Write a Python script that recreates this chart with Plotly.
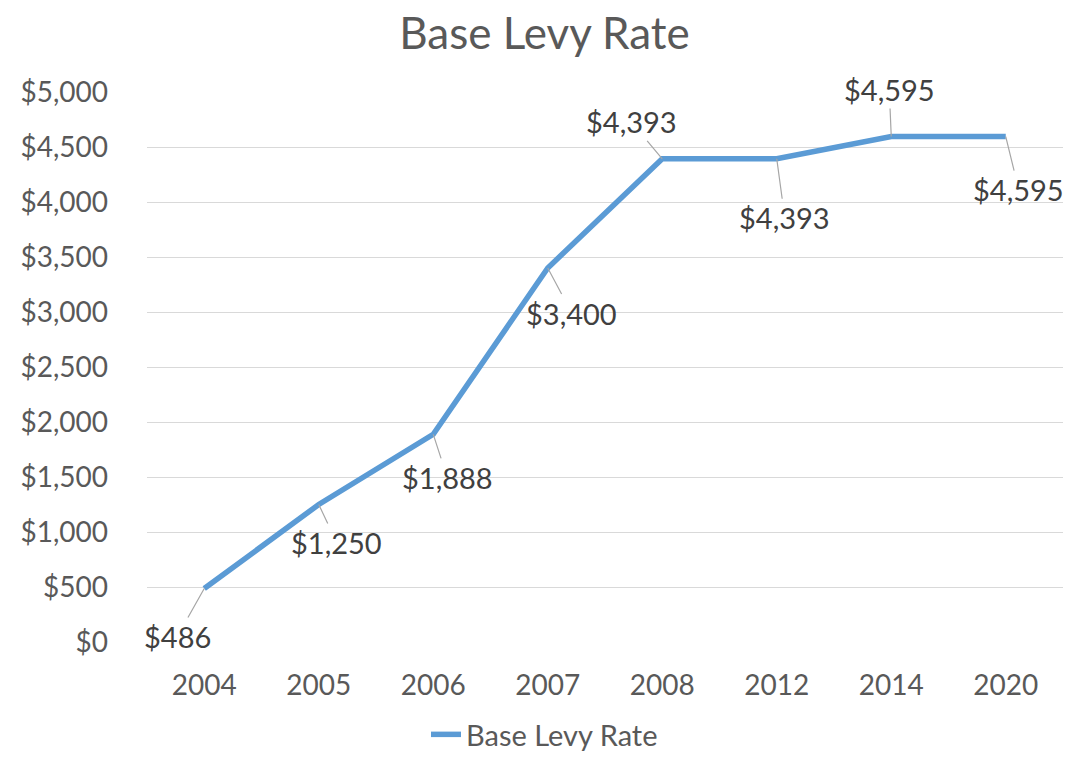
import plotly.graph_objects as go

years = ["2004", "2005", "2006", "2007", "2008", "2012", "2014", "2020"]
levy = [486, 1250, 1888, 3400, 4393, 4393, 4595, 4595]
series_name = "Base Levy Rate"
title_text = "Base Levy Rate"
y_ticks = [0, 500, 1000, 1500, 2000, 2500, 3000, 3500, 4000, 4500, 5000]

# label offsets (pixels) of each data label from its point
label_dx = [-27, 18, 14, 24, -31, 8, -2, 13]
label_dy = [48, 38, 43, 45, -37, 59, -47, 53]

FONT = "Lato"
LINE_COLOR = "#5B9BD5"

fig = go.Figure()
fig.add_trace(go.Scatter(
    x=years, y=levy, mode="lines", name=series_name,
    line=dict(color=LINE_COLOR, width=5.5),
    hoverinfo="skip",
))

for i, (v, dx, dy) in enumerate(zip(levy, label_dx, label_dy)):
    fig.add_annotation(
        x=i, y=v, text=f"${v:,}",
        showarrow=True, arrowhead=0, arrowwidth=1.2, arrowcolor="#A6A6A6",
        ax=dx, ay=dy, standoff=0,
        font=dict(family=FONT, size=29, color="#404040"),
    )

# the page body adds an 8px offset, so margins are shifted to compensate
fig.update_layout(
    width=1073, height=752,
    paper_bgcolor="white", plot_bgcolor="white",
    margin=dict(l=139, r=18, t=84, b=118),
    title=dict(text=title_text, x=0.5, xanchor="center", y=0.966, yanchor="middle",
               font=dict(family=FONT, size=44, color="#595959")),
    font=dict(family=FONT, color="#595959"),
    showlegend=True,
    legend=dict(orientation="h", x=0.5, xanchor="center", xref="container",
                y=0.0, yanchor="bottom", yref="container",
                font=dict(family=FONT, size=29, color="#595959")),
)
fig.update_xaxes(
    type="category", range=[-0.5, 7.5], showgrid=False, showline=False,
    zeroline=False, ticks="", tickfont=dict(family=FONT, size=28, color="#595959"),
    ticklabelstandoff=24, automargin=False,
)
fig.update_yaxes(
    range=[0, 5000], tickvals=y_ticks, ticktext=[f"${t:,}" for t in y_ticks],
    showgrid=True, gridcolor="#D9D9D9", gridwidth=1.3, zeroline=False, showline=False,
    ticks="", tickfont=dict(family=FONT, size=28, color="#595959"),
    ticklabelstandoff=38, automargin=False,
)

fig.write_html("out.html")
